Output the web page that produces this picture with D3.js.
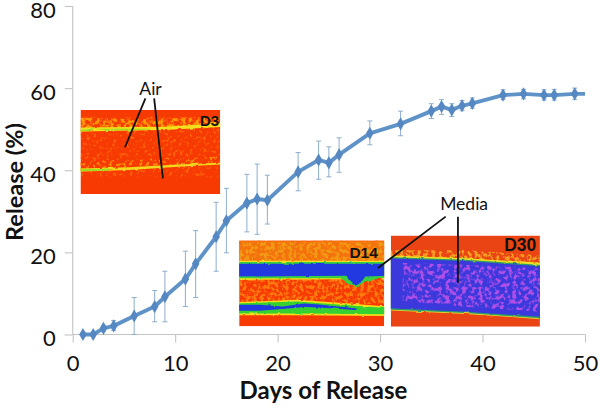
<!DOCTYPE html>
<html><head><meta charset="utf-8">
<script src="https://cdn.jsdelivr.net/npm/d3@7"></script>
<style>html,body{margin:0;background:#fff}svg{display:block}text{font-family:Lato,"Open Sans",sans-serif;fill:#111}</style>
</head><body><svg id="c" width="600" height="408"></svg>
<script>
const days=[1,2,3,4,6,8,9,11,12,14,15,17,18,19,22,24,25,26,29,32,35,36,37,38,39,42,44,46,47,49];
const release=[0,0,1.5,2.1,4.5,6.8,9.2,13.5,17.2,23.8,27.7,32,33,32.7,39.6,42.5,41.8,43.8,49,51.3,54.4,55.5,54.7,55.7,56.3,58.3,58.6,58.3,58.3,58.6];
const errHigh=[0,0,2.2,3.4,9,10.7,15.4,20.3,25.3,32.2,35.6,39,41.5,38.8,44.3,47.1,45.7,47.9,52,54.4,56.2,57.2,56.2,57,57.6,59.6,59.7,59.6,59.7,60];
const errLow=[0,0,0.8,1,0,3.1,3.1,6.8,9,15.4,19.9,25,24.4,26.9,35,37.8,38.4,39.5,46.2,48.4,52.6,53.6,53.1,54.5,55.1,57.2,57.4,57.1,57.1,57.2];
const lineEnd=[50,58.6];
const xTicks=[0,10,20,30,40,50], yTicks=[0,20,40,60,80];
const xTitle="Days of Release", yTitle="Release (%)";
const callouts=[
 {text:"Air",at:[7.6,58.4],lines:[[[7.1,57.5],[5.1,45.6]],[[7.95,57.5],[8.8,38]]]},
 {text:"Media",at:[38.2,30.4],lines:[[[36.4,28.7],[29.8,16.2]],[[37.6,28.7],[37.6,12.6]]]}
];
const insets=[
 {label:"D3",labelAt:[.855,.19],labelSize:15,box:[.76,14.4,54.7,34.2],base:"#f63a02",speck:{c:"#ff6208",f:"f",from:.08,to:.8},layers:[
  {c:"#ff9a00",f:"s",p:[[0,.09,.22],[.4,.11,.22],[1,.08,.18]]},
  {c:"#f2e01e",f:"r",p:[[0,.21,.26],[.18,.205,.25],[.6,.2,.24],[1,.155,.2]]},
  {c:"#a4dc22",f:"r",p:[[0,.235,.255],[.08,.23,.25],[.1,.225,.225],[.2,.225,.245],[.5,.22,.235],[.5,.2,.2],[1,.18,.18]]},
  {c:"#ff8c00",f:"f",p:[[0,.6,.7],[.5,.58,.66],[1,.55,.62]]},
  {c:"#f2d81e",f:"r",p:[[0,.695,.735],[.35,.68,.715],[.7,.65,.675],[1,.625,.645]]},
  {c:"#9edc22",f:"r",p:[[0,.705,.73],[.2,.7,.72],[.2,.7,.7],[1,.64,.64]]}]},
 {label:"D14",labelAt:[.76,.2],labelSize:15.5,box:[16.25,30.4,22.9,2],base:"#f63a02",speck:{c:"#ff7a10",f:"s",from:.45,to:.74},layers:[
  {c:"#f47208",f:"r",p:[[0,0,.25],[1,0,.25]]},
  {c:"#f29a12",f:"s",p:[[0,.02,.25],[1,.02,.25]]},
  {c:"#f2e01e",f:"r",p:[[0,.235,.46],[1,.235,.45]]},
  {c:"#38d040",f:"r",p:[[0,.25,.44],[.7,.25,.44],[.8,.25,.55],[.88,.25,.47],[1,.25,.43]]},
  {c:"#2038e0",f:"r",p:[[0,.27,.42],[.74,.27,.41],[.76,.27,.47],[.8,.27,.53],[.84,.27,.49],[.87,.27,.42],[1,.27,.41]]},
  {c:"#f2e01e",f:"r",p:[[0,.72,.87],[.4,.69,.87],[1,.77,.88]]},
  {c:"#36d030",f:"r",p:[[0,.735,.85],[.4,.71,.85],[1,.79,.86]]},
  {c:"#2038e0",f:"r",p:[[0,.75,.82],[.14,.75,.82],[.3,.77,.8],[.45,.735,.775],[.55,.745,.78],[.8,.79,.81],[.82,.8,.8]]}]},
 {label:"D30",labelAt:[.76,.17],labelSize:17.5,box:[31.05,45.6,24.1,1.9],base:"#ea4414",speck:null,layers:[
  {c:"#f5a020",f:"s",p:[[0,.16,.27],[.5,.16,.29],[1,.22,.34]]},
  {c:"#e8e020",f:"r",p:[[0,.215,.29],[.5,.25,.31],[1,.3,.36]]},
  {c:"#e0d830",f:"r",p:[[0,.795,.82],[.5,.84,.86],[1,.9,.92]]},
  {c:"#2f9a6a",f:"r",p:[[0,.235,.81],[.5,.265,.85],[1,.325,.91]]},
  {c:"#3a38dc",f:"r",p:[[0,.25,.795],[.5,.28,.835],[1,.34,.895]]},
  {c:"#b050e8",f:"m",p:[[.08,.3,.72],[.5,.32,.78],[1,.36,.84]]}]}
];

const W=600,H=408,svg=d3.select("#c");
const x=d3.scaleLinear().domain([0,50]).range([72.7,585]);
const y=d3.scaleLinear().domain([0,80]).range([334.5,6]);
const defs=svg.append("defs");
function noiseFilter(id,freq,slope,cut,seed,blur){
  const f=defs.append("filter").attr("id",id).attr("x","0").attr("y","0").attr("width","1").attr("height","1");
  f.append("feTurbulence").attr("type","fractalNoise").attr("baseFrequency",freq).attr("numOctaves",2).attr("seed",seed).attr("result","t");
  f.append("feColorMatrix").attr("in","t").attr("type","matrix").attr("values",`0 0 0 0 0 0 0 0 0 0 0 0 0 0 0 ${slope} 0 0 0 ${cut}`).attr("result","a");
  f.append("feComposite").attr("in","SourceGraphic").attr("in2","a").attr("operator","in").attr("result","c");
  f.append("feGaussianBlur").attr("in","c").attr("stdDeviation",blur);
}
noiseFilter("s",".28",6,-2.7,3,.6);
noiseFilter("f",".3",6,-3.3,9,.6);
noiseFilter("m",".24",5,-2.3,5,.7);
const rf=defs.append("filter").attr("id","r").attr("x","-.05").attr("y","-.2").attr("width","1.1").attr("height","1.4");
rf.append("feTurbulence").attr("type","fractalNoise").attr("baseFrequency",".18").attr("numOctaves",2).attr("seed",4).attr("result","t");
rf.append("feDisplacementMap").attr("in","SourceGraphic").attr("in2","t").attr("scale",2.5).attr("xChannelSelector","R").attr("yChannelSelector","G").attr("result","d");
rf.append("feGaussianBlur").attr("in","d").attr("stdDeviation",.5);
defs.append("filter").attr("id","soft").append("feGaussianBlur").attr("stdDeviation",.3);

// axes
const ax=svg.append("g").attr("transform",`translate(0,${y(0)})`).call(d3.axisBottom(x).tickValues(xTicks).tickSize(8).tickPadding(13));
const ay=svg.append("g").attr("transform",`translate(${x(0)},0)`).call(d3.axisLeft(y).tickValues(yTicks).tickSize(8).tickPadding(9));
[ax,ay].forEach(g=>{g.selectAll("path,line").attr("stroke","#c4c4c4").attr("stroke-width",1.1);
  g.selectAll("text").style("font-size","22px").attr("fill","#111");});
ay.selectAll("text").attr("dy","0.5em");
ax.select(".domain").attr("d",`M${x(0)},0H${x(50)}`);
ay.select(".domain").attr("d",`M0,${y(0)}V${y(80)}`);
svg.append("text").attr("x",323.5).attr("y",399).attr("text-anchor","middle").style("font-size","24px").style("font-weight",700).text(xTitle);
svg.append("text").attr("transform","translate(23,182) rotate(-90)").attr("text-anchor","middle").style("font-size","23.5px").style("font-weight",700).text(yTitle);

// series
const marks=svg.append("g").attr("filter","url(#soft)");
const err=marks.append("g").attr("stroke","#8fadcb").attr("stroke-width",1).attr("fill","none");
days.forEach((d,i)=>{ if(errHigh[i]===errLow[i])return;
  err.append("line").attr("x1",x(d)).attr("x2",x(d)).attr("y1",y(errHigh[i])).attr("y2",y(errLow[i]));
  [errHigh[i],errLow[i]].forEach(v=>err.append("line").attr("x1",x(d)-2.5).attr("x2",x(d)+2.5).attr("y1",y(v)).attr("y2",y(v)));
});
const pts=days.map((d,i)=>[d,release[i]]);
marks.append("path").attr("fill","none").attr("stroke","#5f93c8").attr("stroke-width",3.9).attr("stroke-linejoin","round")
  .attr("d",d3.line().x(p=>x(p[0])).y(p=>y(p[1]))(pts.concat([lineEnd])));
marks.append("g").selectAll("path").data(pts).join("path").attr("fill","#5487c2")
  .attr("transform",p=>`translate(${x(p[0])},${y(p[1])})`)
  .attr("d",d3.symbol(d3.symbolDiamond,50));

// insets
const ext=f=>f===0?-.03:f===1?1.03:f;
insets.forEach((n,k)=>{
  const sx=d3.scaleLinear().domain([0,1]).range([x(n.box[0]),x(n.box[1])]);
  const sy=d3.scaleLinear().domain([0,1]).range([y(n.box[2]),y(n.box[3])]);
  const cid="clip"+k;
  defs.append("clipPath").attr("id",cid).append("rect").attr("x",sx(0)).attr("y",sy(0)).attr("width",sx(1)-sx(0)).attr("height",sy(1)-sy(0));
  const g=svg.append("g").attr("clip-path",`url(#${cid})`);
  g.append("rect").attr("x",sx(0)).attr("y",sy(0)).attr("width",sx(1)-sx(0)).attr("height",sy(1)-sy(0)).attr("fill",n.base);
  if(n.speck) g.append("rect").attr("x",sx(0)).attr("y",sy(n.speck.from)).attr("width",sx(1)-sx(0)).attr("height",sy(n.speck.to)-sy(n.speck.from)).attr("fill",n.speck.c).attr("filter",`url(#${n.speck.f})`);
  const area=d3.area().x(p=>sx(ext(p[0]))).y0(p=>sy(p[1])).y1(p=>sy(p[2]));
  n.layers.forEach(l=>g.append("g").attr("filter",`url(#${l.f})`).append("path").attr("fill",l.c).attr("d",area(l.p)));
  svg.append("text").attr("x",sx(n.labelAt[0])).attr("y",sy(n.labelAt[1])).style("font-family","'Liberation Sans',sans-serif").style("font-weight",700).style("font-size",n.labelSize+"px").text(n.label);
});

// callouts
callouts.forEach(c=>{
  svg.append("text").attr("x",x(c.at[0])).attr("y",y(c.at[1])).attr("text-anchor","middle").style("font-size","17.5px").text(c.text);
  c.lines.forEach(s=>svg.append("line").attr("x1",x(s[0][0])).attr("y1",y(s[0][1])).attr("x2",x(s[1][0])).attr("y2",y(s[1][1])).attr("stroke","#111").attr("stroke-width",1.8));
});
</script></body></html>
